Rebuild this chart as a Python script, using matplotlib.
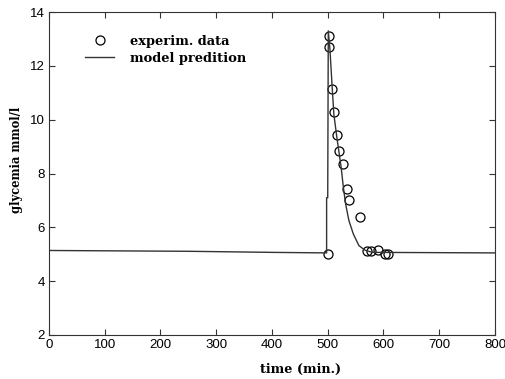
"""Glycemia: experimental data vs model prediction."""

import matplotlib
matplotlib.use("Agg")
import matplotlib.pyplot as plt

# experimental glycemia measurements (min, mmol/l)
exp_time = [500, 502, 503, 508, 511, 517, 520, 528, 534, 539, 558, 570, 577, 590, 603, 608]
exp_glyc = [5.0, 13.1, 12.7, 11.15, 10.3, 9.43, 8.85, 8.36, 7.42, 7.03, 6.37, 5.13, 5.13, 5.14, 5.0, 5.0]

# model prediction curve (min, mmol/l)
model_time = [0, 250, 400, 498, 498, 500, 501, 504, 508, 511, 516, 524, 528, 532,
              538, 546, 556, 567, 580, 800]
model_glyc = [5.14, 5.11, 5.07, 5.05, 7.1, 7.1, 13.3, 12.6, 11.2, 10.2, 9.4, 8.24, 7.5, 6.88,
              6.25, 5.75, 5.32, 5.15, 5.07, 5.05]

x_ticks = [0, 100, 200, 300, 400, 500, 600, 700, 800]
y_ticks = [2, 4, 6, 8, 10, 12, 14]

serif = ["DejaVu Serif"]
plt.rcParams["font.family"] = ["Liberation Sans", "DejaVu Sans"]

fig = plt.figure(figsize=(5.06, 3.79), dpi=100)
ax = fig.add_axes([0.0968, 0.1161, 0.8814, 0.8522])

ax.plot(exp_time, exp_glyc, linestyle="none", marker="o", markersize=6.5,
        markerfacecolor="none", markeredgecolor="black", markeredgewidth=0.9,
        label="experim. data")
ax.plot(model_time, model_glyc, color="#333333", linewidth=1.0, label="model predition")

ax.set_xlim(0, 800)
ax.set_ylim(2, 14)
ax.set_xticks(x_ticks)
ax.set_yticks(y_ticks)
ax.tick_params(direction="in", top=True, right=True, length=4, labelsize=9.5,
               color="#333333", pad=3)
for s in ax.spines.values():
    s.set_color("#333333")

ax.set_xlabel("time (min.)", fontfamily=serif, fontweight="bold", fontsize=9.2)
ax.xaxis.set_label_coords(0.563, -0.088)
ax.set_ylabel("glycemia mmol/l", fontfamily=serif, fontweight="bold", fontsize=8.3)
ax.yaxis.set_label_coords(-0.058, 0.542)

leg = ax.legend(loc="upper left", bbox_to_anchor=(0.055, 0.966), frameon=False,
                handlelength=2.2, handletextpad=1.25, labelspacing=0.3,
                prop={"family": serif, "weight": "bold", "size": 9.4})

fig.savefig("out.png", dpi=100)
